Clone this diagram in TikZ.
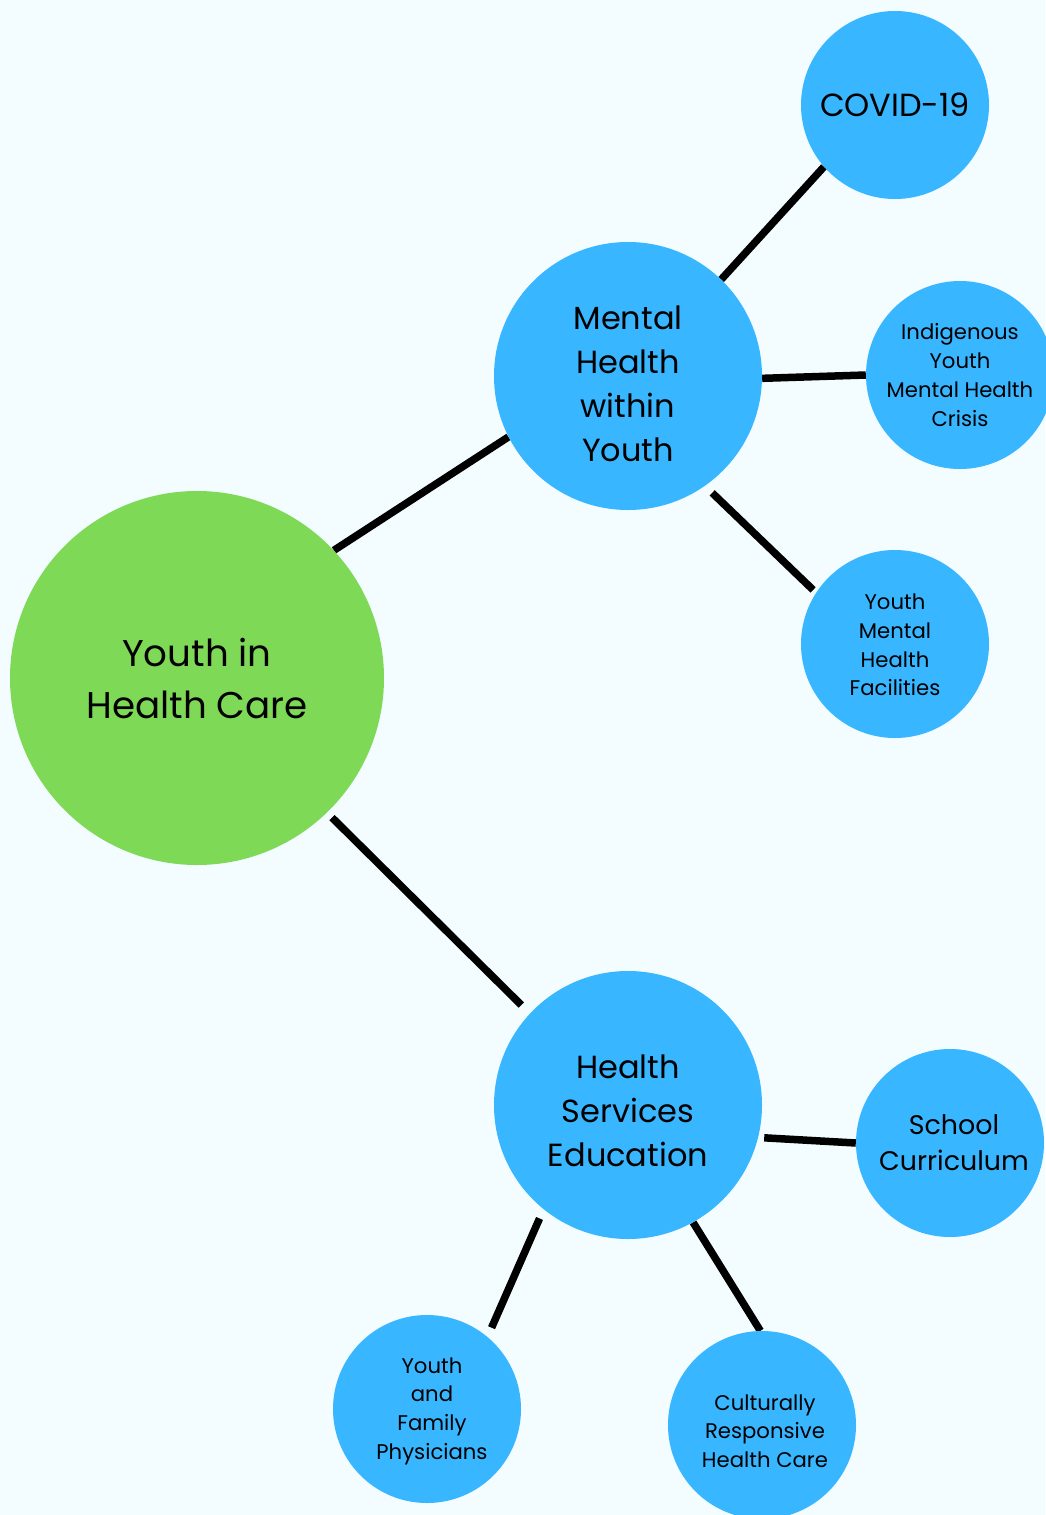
\documentclass[tikz,border=0pt]{standalone}
\usepackage{fontspec}
\setmainfont{Poppins}
\definecolor{pagebg}{HTML}{F3FDFF}
\definecolor{hubgreen}{HTML}{7ED957}
\definecolor{topicblue}{HTML}{38B6FF}
\pgfdeclarelayer{background}
\pgfsetlayers{background,main}
\begin{document}
\begin{tikzpicture}[x=1pt,y=-1pt,
  bubble/.style={circle,inner sep=0pt},
  hub/.style={bubble,fill=hubgreen,minimum size=374pt},
  topic/.style={bubble,fill=topicblue,minimum size=268pt},
  leaf/.style={bubble,fill=topicblue,minimum size=188pt},
  caption/.style={inner sep=0pt,align=center,text=black},
  hubtext/.style={caption,font=\fontsize{37.2}{52}\selectfont},
  topictext/.style={caption,font=\fontsize{32}{44}\selectfont},
  leaftext/.style={caption,font=\fontsize{21.2}{28.7}\selectfont},
  link/.style={line width=7.5pt,draw=black,line cap=butt}]
\useasboundingbox (0,0) rectangle (1045,1515);

% bubbles
\node[hub]   (hub)    at (197,678) {};
\node[topic] (mental) at (628,376) {};
\node[topic] (hse)    at (628,1105) {};
\node[leaf]  (covid)  at (895,105) {};
\node[leaf]  (indig)  at (960,375) {};
\node[leaf]  (facil)  at (895,644) {};
\node[leaf]  (school) at (950,1143) {};
\node[leaf]  (phys)   at (427,1409) {};
\node[leaf]  (cult)   at (762,1425) {};

% page and connectors, beneath the bubbles
\begin{pgfonlayer}{background}
\fill[pagebg] (0,0) rectangle (1045,1515);
\draw[link] (hub.43) -- (mental.207);
\draw[link] (mental.46) -- (covid.221);
\draw[link] (mental.-1) -- (indig.180);
\draw[link,shorten <=10pt,shorten >=4pt] (mental.-55) -- (facil.147);
\draw[link,shorten <=7pt,shorten >=12pt] (hub.-46) -- (hse.137);
\draw[link,shorten <=6pt] (hse.-14) -- (school.180);
\draw[link,shorten <=10pt,shorten >=10pt] (hse.231) -- (phys.50);
\draw[link] (hse.-61) -- (cult.91);
\end{pgfonlayer}

% labels
\node[hubtext]   (thub)    at ([yshift=-1pt]hub.center) {Youth in\\Health Care};
\node[topictext] (tmental) at ([yshift=-8pt]mental.center) {Mental\\Health\\within\\Youth};
\node[topictext] (thse)    at ([yshift=-6pt]hse.center) {Health\\Services\\Education};
\node[caption,font=\fontsize{32}{40}\selectfont] (tcovid) at (covid.center) {COVID-19};
\node[leaftext]  (tindig)  at (indig.center) {Indigenous\\Youth\\Mental Health\\Crisis};
\node[leaftext]  (tfacil)  at ([yshift=-1pt]facil.center) {Youth\\Mental\\Health\\Facilities};
\node[caption,font=\fontsize{26.9}{36}\selectfont] (tschool) at ([xshift=4pt]school.center) {School\\Curriculum};
\node[leaftext]  (tphys)   at ([xshift=5pt,yshift=-2pt]phys.center) {Youth\\and\\Family\\Physicians};
\node[leaftext]  (tcult)   at ([xshift=3pt,yshift=-6pt]cult.center) {Culturally\\Responsive\\Health Care};
\end{tikzpicture}
\end{document}
